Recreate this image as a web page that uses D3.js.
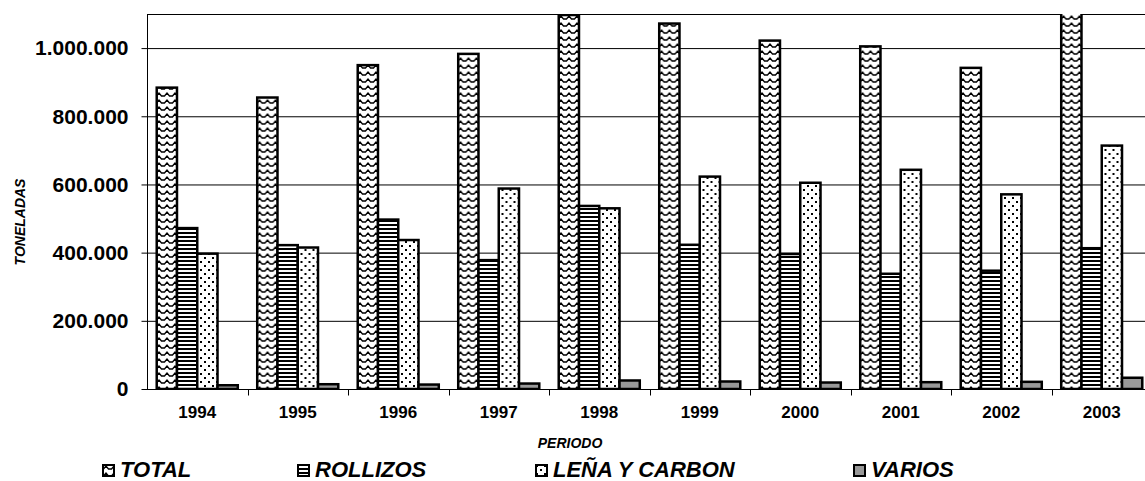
<!DOCTYPE html>
<html>
<head>
<meta charset="utf-8">
<script src="https://cdn.jsdelivr.net/npm/d3@7"></script>
<style>
  body { margin: 0; background: #fff; }
  svg { display: block; font-family: Arial, "Liberation Sans", sans-serif; }
</style>
</head>
<body>
<svg id="chart" width="1145" height="481"></svg>
<script>
/* ---------------------- Data ---------------------- */
var years = ["1994", "1995", "1996", "1997", "1998", "1999", "2000", "2001", "2002", "2003"];
var seriesNames = ["TOTAL", "ROLLIZOS", "LEÑA Y CARBON", "VARIOS"];

var total    = [884000, 855000, 950000, 983000, 1097000, 1072000, 1022000, 1005000, 942000, 1140000];
var rollizos = [472000, 422000, 497000, 378000, 537000, 423000, 396000, 338000, 347000, 413000];
var lena     = [397000, 415000, 437000, 588000, 530000, 623000, 605000, 643000, 571000, 714000];
var varios   = [11000, 14000, 13000, 16000, 25000, 22000, 19000, 20000, 21000, 33000];

var yTicks = [0, 200000, 400000, 600000, 800000, 1000000];

/* ---------------------- Layout ---------------------- */
var margin = {top: 14, left: 147, bottom: 389};
var plotW = 1005;
var keys = ["total", "rollizos", "lena", "varios"];
var fills = {total: "url(#pTotal)", rollizos: "url(#pRollizos)", lena: "url(#pLena)", varios: "#999999"};

var svg = d3.select("#chart");
var defs = svg.append("defs");

// Patterns
var pT = defs.append("pattern").attr("id", "pTotal").attr("patternUnits", "userSpaceOnUse")
    .attr("width", 8).attr("height", 7);
pT.append("rect").attr("width", 8).attr("height", 7).attr("fill", "#fff");
pT.append("path").attr("d", "M0,5 L1.5,5 L4,2 L6.5,5 L8,5")
    .attr("fill", "none").attr("stroke", "#000").attr("stroke-width", 1.3);

var pR = defs.append("pattern").attr("id", "pRollizos").attr("patternUnits", "userSpaceOnUse")
    .attr("width", 6).attr("height", 4);
pR.append("rect").attr("width", 6).attr("height", 4).attr("fill", "#fff");
pR.append("rect").attr("width", 6).attr("height", 2).attr("fill", "#000");

var pL = defs.append("pattern").attr("id", "pLena").attr("patternUnits", "userSpaceOnUse")
    .attr("width", 8).attr("height", 8);
pL.append("rect").attr("width", 8).attr("height", 8).attr("fill", "#fff");
pL.append("rect").attr("x", 1).attr("y", 1).attr("width", 2).attr("height", 2).attr("fill", "#000");
pL.append("rect").attr("x", 5).attr("y", 5).attr("width", 2).attr("height", 2).attr("fill", "#000");

defs.append("clipPath").attr("id", "plotClip")
    .append("rect").attr("x", margin.left).attr("y", margin.top)
    .attr("width", plotW).attr("height", margin.bottom - margin.top);

// Scales
var x0 = d3.scaleBand().domain(years).range([margin.left, margin.left + plotW]);
var x1 = d3.scaleBand().domain(keys).range([0, x0.bandwidth()]).paddingOuter(0.48);
var y = d3.scaleLinear().domain([0, 1100000]).range([margin.bottom, margin.top]);

var fmt = d3.formatLocale({decimal: ",", thousands: ".", grouping: [3], currency: ["", ""]}).format(",");

// Grid lines
svg.append("g").selectAll("line").data(yTicks.slice(1)).join("line")
    .attr("x1", margin.left).attr("x2", margin.left + plotW)
    .attr("y1", d => y(d) + 0.5).attr("y2", d => y(d) + 0.5)
    .attr("stroke", "#000").attr("stroke-width", 1);

// Top frame
svg.append("line").attr("x1", margin.left).attr("x2", margin.left + plotW)
    .attr("y1", margin.top + 0.5).attr("y2", margin.top + 0.5)
    .attr("stroke", "#000");

// Bars
var data = years.map((yr, i) => ({year: yr, total: total[i], rollizos: rollizos[i], lena: lena[i], varios: varios[i]}));

svg.append("g").attr("clip-path", "url(#plotClip)")
  .selectAll("g").data(data).join("g")
    .attr("transform", d => `translate(${x0(d.year)},0)`)
  .selectAll("rect").data(d => keys.map(k => ({key: k, value: d[k]}))).join("rect")
    .attr("x", d => x1(d.key))
    .attr("y", d => y(d.value))
    .attr("width", x1.bandwidth())
    .attr("height", d => y(0) - y(d.value))
    .attr("fill", d => fills[d.key])
    .attr("stroke", "#000").attr("stroke-width", 2.5);

// Y axis
var yAxis = d3.axisLeft(y).tickValues(yTicks).tickFormat(fmt).tickSize(6).tickPadding(13);
var gy = svg.append("g").attr("transform", `translate(${margin.left + 0.5},0)`).call(yAxis);
gy.select(".domain").attr("d", `M0,${margin.top}V${margin.bottom}`).attr("stroke", "#000");
gy.selectAll("text").attr("font-size", 21).attr("font-weight", "bold").attr("fill", "#000")
    .attr("font-family", "Arial, 'Liberation Sans', sans-serif");

// X axis
var xAxis = d3.axisBottom(x0).tickSize(0).tickPadding(16);
var gx = svg.append("g").attr("transform", `translate(0,${margin.bottom + 0.5})`).call(xAxis);
gx.select(".domain").attr("d", `M${margin.left},0H${margin.left + plotW}`).attr("stroke", "#000");
gx.selectAll("text").attr("font-size", 17).attr("font-weight", "bold").attr("fill", "#000")
    .attr("font-family", "Arial, 'Liberation Sans', sans-serif");
// category separator ticks
gx.append("g").selectAll("line").data(years.slice(1)).join("line")
    .attr("x1", d => Math.round(x0(d)) + 0.5).attr("x2", d => Math.round(x0(d)) + 0.5)
    .attr("y1", 0).attr("y2", 6).attr("stroke", "#000");

// Axis titles
svg.append("text").attr("transform", "translate(25,222) rotate(-90)")
    .attr("text-anchor", "middle").attr("font-size", 14).attr("font-weight", "bold")
    .attr("font-style", "italic").text("TONELADAS");

svg.append("text").attr("x", 570).attr("y", 448)
    .attr("text-anchor", "middle").attr("font-size", 14).attr("font-weight", "bold")
    .attr("font-style", "italic").text("PERIODO");

// Legend
var legendX = [102, 297, 535, 853];
var lg = svg.append("g").selectAll("g").data(keys).join("g")
    .attr("transform", (d, i) => `translate(${legendX[i]},464)`);
lg.append("rect").attr("x", 1).attr("y", 1).attr("width", 11).attr("height", 11)
    .attr("fill", d => fills[d]).attr("stroke", "#000").attr("stroke-width", 2);
lg.append("text").attr("x", 18).attr("y", 12.5)
    .attr("font-size", 22).attr("font-weight", "bold").attr("font-style", "italic")
    .text((d, i) => seriesNames[i]);
</script>
</body>
</html>
